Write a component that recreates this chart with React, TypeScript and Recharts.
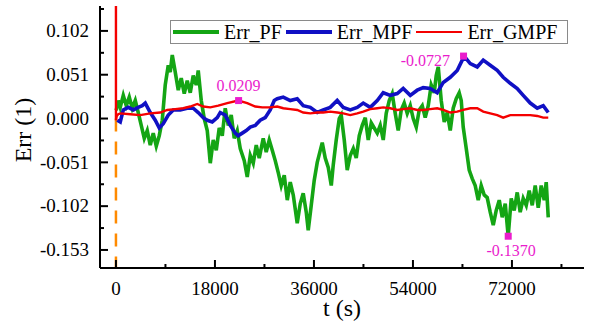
import React from 'react';
import { LineChart, Line, XAxis, YAxis, ReferenceLine, ReferenceDot, Legend } from 'recharts';

// ---- data ----
const tPF = [50, 420, 780, 1330, 1870, 2420, 2960, 3510, 4050, 4600, 5150, 5690, 6240, 6780, 7330, 7870, 8420, 8960, 9510, 9870, 10240, 10780, 11330, 11870, 12420, 12960, 13510, 14050, 14600, 14960, 15510, 16050, 16600, 17150, 17690, 18240, 18780, 19330, 19870, 20420, 20960, 21510, 22050, 22600, 23330, 23870, 24420, 24960, 25510, 26050, 26780, 27320, 27870, 28420, 28960, 29510, 30050, 30600, 31150, 31690, 32240, 32960, 33510, 34050, 34600, 34960, 35510, 36050, 36600, 37150, 37510, 38050, 38600, 39150, 39510, 40050, 40600, 40960, 41510, 42050, 42600, 43150, 43690, 44240, 44780, 45330, 45870, 46420, 46960, 47510, 48050, 48600, 49140, 49690, 50230, 50780, 51320, 51870, 52410, 52960, 53510, 54050, 54600, 55140, 55690, 56230, 56780, 57320, 57870, 58230, 58600, 59140, 59690, 60230, 60780, 61320, 61870, 62410, 62780, 63140, 63690, 64230, 64780, 65320, 65870, 66410, 66960, 67500, 68050, 68600, 69140, 69690, 70230, 70780, 71320, 71870, 72410, 72960, 73500, 74050, 74600, 75140, 75690, 76230, 76780, 77320, 77870, 78230, 78600];
const errPF = [0.0095, 0.021, 0.013, 0.027, 0.015, 0.025, 0.012, 0.021, 0.007, -0.008, -0.023, -0.014, -0.031, -0.017, -0.032, -0.020, -0.002, 0.039, 0.062, 0.054, 0.074, 0.054, 0.033, 0.047, 0.029, 0.044, 0.030, 0.050, 0.039, 0.056, 0.021, 0.000, -0.014, -0.052, -0.025, -0.037, -0.011, -0.020, 0.012, -0.008, 0.004, -0.023, -0.014, -0.035, -0.049, -0.068, -0.043, -0.052, -0.031, -0.046, -0.023, -0.039, -0.025, -0.037, -0.049, -0.063, -0.078, -0.066, -0.095, -0.074, -0.089, -0.122, -0.099, -0.087, -0.109, -0.130, -0.101, -0.072, -0.051, -0.037, -0.028, -0.046, -0.057, -0.078, -0.054, -0.025, 0.000, 0.004, -0.025, -0.060, -0.043, -0.035, -0.046, -0.020, -0.008, 0.001, -0.025, -0.005, -0.011, -0.017, -0.008, -0.025, 0.006, 0.021, 0.029, 0.006, -0.014, 0.010, 0.018, 0.006, 0.015, 0.000, -0.010, 0.010, 0.015, 0.001, 0.015, 0.039, 0.030, 0.050, 0.060, 0.021, -0.004, 0.007, -0.014, 0.012, 0.023, 0.030, 0.021, -0.010, -0.035, -0.060, -0.070, -0.078, -0.095, -0.078, -0.089, -0.092, -0.109, -0.124, -0.107, -0.095, -0.115, -0.099, -0.137, -0.093, -0.107, -0.086, -0.109, -0.093, -0.101, -0.084, -0.101, -0.078, -0.104, -0.078, -0.095, -0.074, -0.115];

const tMPF = [240, 780, 1330, 2240, 3150, 4050, 4780, 5330, 6240, 7150, 7870, 8600, 9510, 10420, 11690, 12960, 14050, 14960, 15870, 16600, 17510, 18420, 18960, 19870, 20780, 21690, 22230, 22960, 23690, 24420, 25330, 26230, 27140, 28050, 28780, 29330, 30420, 31690, 32960, 34050, 35330, 36600, 37690, 38960, 40230, 41330, 42600, 43870, 44960, 46230, 47510, 48600, 49870, 51140, 52230, 53510, 54780, 55870, 57140, 58410, 59510, 60780, 62050, 62960, 63510, 64420, 65690, 66780, 68050, 69320, 70410, 71690, 72960, 74050, 75330, 76600, 77690, 78600];
const errMPF = [-0.002, -0.004, 0.010, 0.013, 0.010, 0.013, 0.015, 0.018, 0.007, -0.002, -0.011, -0.006, 0.004, 0.010, 0.010, 0.012, 0.012, 0.007, 0.001, -0.002, -0.004, 0.001, 0.007, 0.004, -0.008, -0.017, -0.020, -0.017, -0.014, -0.010, -0.008, -0.002, 0.001, 0.010, 0.021, 0.023, 0.025, 0.021, 0.023, 0.015, 0.013, 0.007, 0.010, 0.013, 0.021, 0.013, 0.010, 0.013, 0.018, 0.013, 0.021, 0.030, 0.027, 0.029, 0.035, 0.027, 0.033, 0.036, 0.035, 0.030, 0.042, 0.048, 0.056, 0.068, 0.071, 0.064, 0.060, 0.068, 0.062, 0.056, 0.048, 0.041, 0.035, 0.027, 0.018, 0.012, 0.015, 0.007];

const tGMPF = [0, 0, 150, 420, 780, 2600, 4420, 6240, 8050, 9330, 10780, 12240, 13510, 14780, 15870, 17150, 18600, 20240, 22230, 23870, 25330, 26600, 28050, 29330, 30420, 31690, 32960, 34050, 35330, 36600, 37690, 38960, 40230, 41330, 42600, 43870, 44960, 46230, 47510, 48600, 49870, 51140, 52230, 53510, 54780, 55870, 57140, 58410, 59510, 60780, 62050, 63140, 64420, 65690, 66780, 68050, 69320, 70410, 71690, 72960, 74050, 75330, 76600, 77690, 78600];
const errGMPF = [0.2, -0.002, 0.003, 0.005, 0.006, 0.005, 0.004, 0.006, 0.007, 0.010, 0.011, 0.012, 0.014, 0.017, 0.014, 0.013, 0.015, 0.018, 0.021, 0.018, 0.014, 0.013, 0.013, 0.014, 0.012, 0.011, 0.010, 0.007, 0.006, 0.007, 0.007, 0.008, 0.007, 0.006, 0.004, 0.006, 0.008, 0.011, 0.012, 0.013, 0.012, 0.010, 0.011, 0.012, 0.010, 0.010, 0.011, 0.012, 0.010, 0.007, 0.008, 0.010, 0.012, 0.012, 0.008, 0.006, 0.004, 0.001, 0.004, 0.004, 0.004, 0.004, 0.003, 0.001, 0.001];

const seriesNames = ['Err_PF', 'Err_MPF', 'Err_GMPF'];
const xTicks = [0, 9000, 18000, 27000, 36000, 45000, 54000, 63000, 72000, 81000];
const yTicks = [-0.153, -0.1275, -0.102, -0.0765, -0.051, -0.0255, 0, 0.0255, 0.051, 0.0765, 0.102, 0.1275];
const xDomain = [-2900, 85100];
const yDomain = [-0.174, 0.131];

const markT = [22300, 63200, 71320];
const markV = [0.0209, 0.0727, -0.137];
const markLabels = ['0.0209', '-0.0727', '-0.1370'];

const guideT = [0, 0];
const guideV = [0, -0.174];

// ---- styles ----
const SERIF = "'Liberation Serif', 'Times New Roman', serif";
const COLORS = ['#14a514', '#1010c4', '#f40000'];
const WIDTHS = [3.6, 3.6, 2.4];
const MAGENTA = '#ea1ccc';
const markLabelPos = ['top', 'left', 'bottom'];
const markLabelOffset = [6, 10, 5];
const markLabelDx = [0, 0, 3];
const markLabelDy = [0, 4, 0];

const build = (t: number[], v: number[]) =>
  t.slice(0, Math.min(t.length, v.length)).map((x, i) => ({ t: x, v: v[i] }));

const dataPF = build(tPF, errPF);
const dataMPF = build(tMPF, errMPF);
const dataGMPF = build(tGMPF, errGMPF);

const tickFont = 19;

const BottomTick = (p: any) => {
  const major = p.index % 2 === 0;
  return (
    <g>
      <line x1={p.x} x2={p.x} y1={p.y} y2={p.y - (major ? 8 : 4)} stroke="#000" strokeWidth={2} />
      {major && (
        <text x={p.x} y={p.y + 27} textAnchor="middle" fontFamily={SERIF} fontSize={tickFont} fill="#000">
          {p.payload.value}
        </text>
      )}
    </g>
  );
};
const TopTick = (p: any) => {
  const major = p.index % 2 === 0;
  return <line x1={p.x} x2={p.x} y1={p.y} y2={p.y + (major ? 8 : 4)} stroke="#000" strokeWidth={2} />;
};
const LeftTick = (p: any) => {
  const major = p.index % 2 === 0;
  return (
    <g>
      <line x1={p.x} x2={p.x + (major ? 8 : 4)} y1={p.y} y2={p.y} stroke="#000" strokeWidth={2} />
      {major && (
        <text x={p.x - 11} y={p.y + 6.3} textAnchor="end" fontFamily={SERIF} fontSize={tickFont} fill="#000">
          {Number(p.payload.value).toFixed(3)}
        </text>
      )}
    </g>
  );
};
const RightTick = (p: any) => {
  const major = p.index % 2 === 0;
  return <line x1={p.x} x2={p.x - (major ? 8 : 4)} y1={p.y} y2={p.y} stroke="#000" strokeWidth={2} />;
};

const renderLegend = () => (
  <div
    style={{
      width: 396,
      height: 22,
      border: '1px solid #8a8a8a',
      background: '#fff',
      display: 'flex',
      alignItems: 'center',
      fontFamily: SERIF,
      fontSize: 20,
      color: '#000',
      boxSizing: 'content-box',
    }}
  >
    {seriesNames.map((n, i) => (
      <div key={n} style={{ display: 'flex', alignItems: 'center', marginLeft: i === 0 ? 2 : 4 }}>
        <div style={{ width: 46, height: 0, borderTop: `${WIDTHS[i] + 0.4}px solid ${COLORS[i]}` }} />
        <span style={{ marginLeft: 5, lineHeight: '22px', whiteSpace: 'nowrap' }}>{n}</span>
      </div>
    ))}
  </div>
);

const MarkSquare = (p: any) => (
  <rect x={p.cx - 3.5} y={p.cy - 3.5} width={7} height={7} fill={MAGENTA} />
);

export default function App() {
  return (
    <div style={{ position: 'absolute', left: 0, top: 0, width: 596, height: 325, background: '#fff' }}>
      <LineChart width={596} height={325} margin={{ top: 6, right: 12, bottom: 27, left: 0 }}>
        <XAxis
          xAxisId="b"
          dataKey="t"
          type="number"
          domain={xDomain}
          ticks={xTicks}
          interval={0}
          allowDataOverflow
          height={30}
          tickSize={0}
          tickMargin={0}
          tickLine={false}
          axisLine={{ stroke: '#000', strokeWidth: 2 }}
          tick={BottomTick}
          label={(lp: any) => {
            const vb = lp.viewBox;
            return (
              <text x={vb.x + vb.width / 2} y={316} textAnchor="middle" fontFamily={SERIF} fontSize={24} fill="#000">
                t (s)
              </text>
            );
          }}
        />
        <XAxis
          xAxisId="t"
          orientation="top"
          dataKey="t"
          type="number"
          domain={xDomain}
          ticks={xTicks}
          interval={0}
          allowDataOverflow
          height={0}
          tickSize={0}
          tickMargin={0}
          tickLine={false}
          axisLine={{ stroke: '#000', strokeWidth: 2 }}
          tick={TopTick}
        />
        <YAxis
          yAxisId="l"
          type="number"
          domain={yDomain}
          ticks={yTicks}
          interval={0}
          allowDataOverflow
          width={100}
          tickSize={0}
          tickMargin={0}
          tickLine={false}
          axisLine={{ stroke: '#000', strokeWidth: 2 }}
          tick={LeftTick}
          label={(lp: any) => {
            const vb = lp.viewBox;
            const cy = vb.y + vb.height / 2 - 7;
            return (
              <text x={31} y={cy} transform={`rotate(-90 31 ${cy})`} textAnchor="middle" fontFamily={SERIF} fontSize={24} fill="#000">
                Err (1)
              </text>
            );
          }}
        />
        <YAxis
          yAxisId="r"
          orientation="right"
          type="number"
          domain={yDomain}
          ticks={yTicks}
          interval={0}
          allowDataOverflow
          width={0}
          tickSize={0}
          tickMargin={0}
          tickLine={false}
          axisLine={{ stroke: '#000', strokeWidth: 2 }}
          tick={RightTick}
        />
        <ReferenceLine
          xAxisId="b"
          yAxisId="l"
          segment={[{ x: guideT[0], y: guideV[0] }, { x: guideT[1], y: guideV[1] }]}
          stroke="#ff8a00"
          strokeWidth={2.5}
          strokeDasharray="13 10"
          ifOverflow="extendDomain"
        />
        <Line xAxisId="b" yAxisId="l" data={dataPF} dataKey="v" name={seriesNames[0]} type="linear" stroke={COLORS[0]} strokeWidth={WIDTHS[0]} dot={false} isAnimationActive={false} strokeLinejoin="miter" />
        <Line xAxisId="b" yAxisId="l" data={dataMPF} dataKey="v" name={seriesNames[1]} type="linear" stroke={COLORS[1]} strokeWidth={WIDTHS[1]} dot={false} isAnimationActive={false} />
        <Line xAxisId="b" yAxisId="l" data={dataGMPF} dataKey="v" name={seriesNames[2]} type="linear" stroke={COLORS[2]} strokeWidth={WIDTHS[2]} dot={false} isAnimationActive={false} />
        {markT.map((t, i) => (
          <ReferenceDot
            key={i}
            xAxisId="b"
            yAxisId="l"
            x={t}
            y={markV[i]}
            r={3.5}
            shape={MarkSquare}
            label={{
              value: markLabels[i],
              position: markLabelPos[i] as any,
              offset: markLabelOffset[i],
              fill: MAGENTA,
              fontSize: 16,
              fontFamily: SERIF,
              dx: markLabelDx[i],
              dy: markLabelDy[i],
            }}
          />
        ))}
        <Legend
          layout="vertical"
          align="center"
          verticalAlign="middle"
          wrapperStyle={{ left: 170, top: 20, width: 398 }}
          content={renderLegend}
        />
      </LineChart>
    </div>
  );
}
